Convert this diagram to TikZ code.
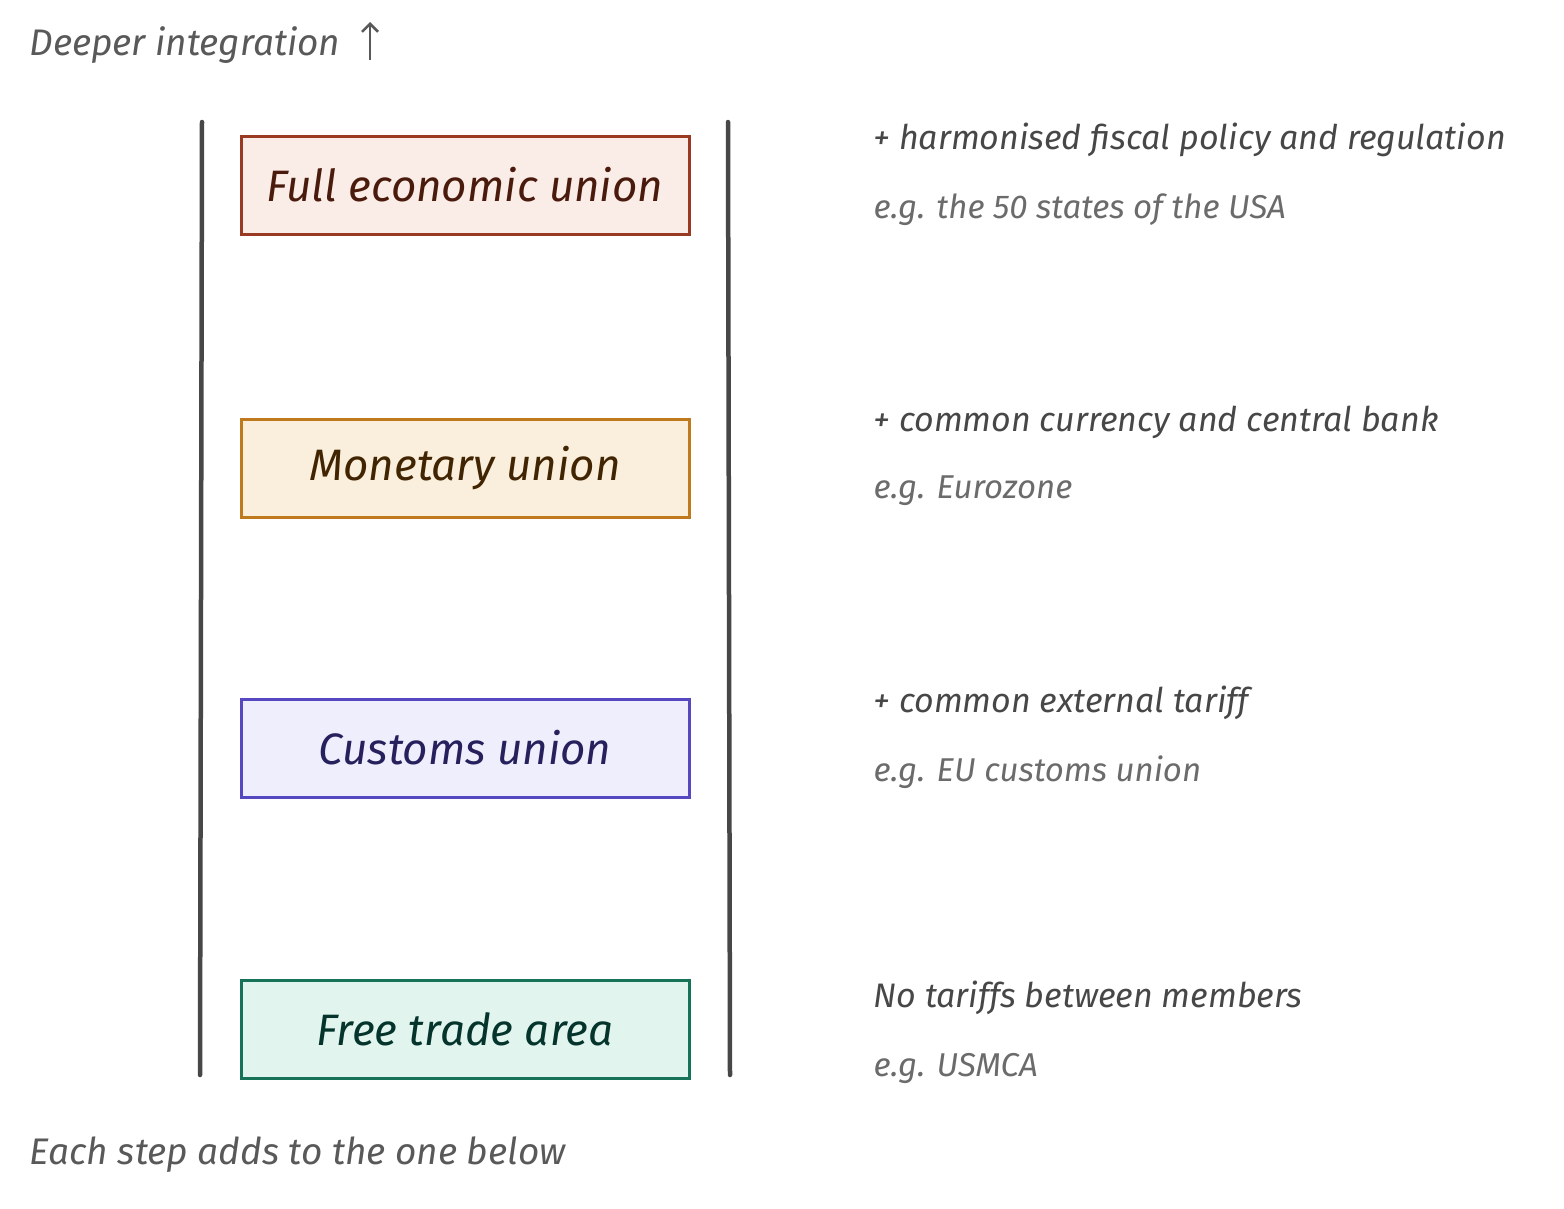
\documentclass[tikz,border=0pt]{standalone}
\usepackage{fontspec}
\usetikzlibrary{arrows.meta}
\setmainfont{Fira Sans}
\begin{document}
\begin{tikzpicture}[x=1pt,y=-1pt,
  rail/.style={line width=4.5pt,color=black!72,line cap=round},
  stage/.style={draw,line width=3pt,minimum width=448pt,minimum height=98pt,font=\fontsize{44}{48}\selectfont\itshape\addfontfeatures{Weight=Medium}},
  head/.style={anchor=west,text=black!72,font=\fontsize{34}{38}\selectfont\itshape\addfontfeatures{Weight=Light}},
  eg/.style={anchor=west,text=black!58,font=\fontsize{33}{36}\selectfont\itshape\addfontfeatures{Weight=Light}},
  note/.style={anchor=west,text=black!65,font=\fontsize{37}{40}\selectfont\itshape\addfontfeatures{Weight=Light}}]
\useasboundingbox (0,0) rectangle (1564,1208);
\definecolor{fr}{HTML}{9B3A22}\definecolor{ff}{HTML}{FAECE7}\definecolor{ft}{HTML}{4A1B0C}
\definecolor{mr}{HTML}{C07A1E}\definecolor{mf}{HTML}{FAEFDC}\definecolor{mt}{HTML}{412402}
\definecolor{cr}{HTML}{5548C0}\definecolor{cf}{HTML}{EEEEFC}\definecolor{ct}{HTML}{26215C}
\definecolor{gr}{HTML}{177358}\definecolor{gf}{HTML}{E1F5EE}\definecolor{gt}{HTML}{04342C}
\node[note] (top) at (26,45) {Deeper integration};
\coordinate (a1) at (370,60); \coordinate (a2) at (370,22);
\draw[line width=2.5pt,black!65,-{Straight Barb[length=8pt]}] (a1) -- (a2);
\coordinate (l1) at (202,122); \coordinate (l2) at (200,1075);
\coordinate (r1) at (728,122); \coordinate (r2) at (730,1075);
\draw[rail] (l1) -- (l2); \draw[rail] (r1) -- (r2);
\node[stage,draw=fr,fill=ff,text=ft] (s4) at (465,185) {Full economic union};
\node[stage,draw=mr,fill=mf,text=mt] (s3) at (465,468) {Monetary union};
\node[stage,draw=cr,fill=cf,text=ct] (s2) at (465,748) {Customs union};
\node[stage,draw=gr,fill=gf,text=gt] (s1) at (465,1029) {Free trade area};
\node[head] (h4) at (870,140) {+ harmonised fiscal policy and regulation};
\node[eg] (e4) at (870,210) {e.g. the 50 states of the USA};
\node[head] (h3) at (870,422) {+ common currency and central bank};
\node[eg] (e3) at (870,491) {e.g. Eurozone};
\node[head] (h2) at (870,703) {+ common external tariff};
\node[eg] (e2) at (870,772) {e.g. EU customs union};
\node[head] (h1) at (870,998) {No tariffs between members};
\node[eg] (e1) at (870,1068) {e.g. USMCA};
\node[note] (bot) at (26,1155) {Each step adds to the one below};
\end{tikzpicture}
\end{document}
